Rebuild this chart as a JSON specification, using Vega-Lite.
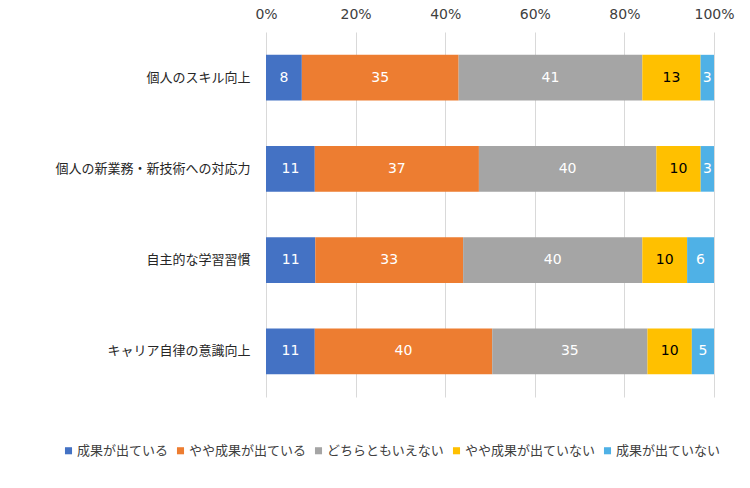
{
  "$schema": "https://vega.github.io/schema/vega-lite/v6.json",
  "autosize": "none",
  "width": 448,
  "height": 365,
  "padding": {"left": 266, "top": 32, "right": 36, "bottom": 91},
  "background": "white",
  "config": {"view": {"stroke": null}, "font": "Noto Sans CJK JP"},
  "data": {"values": [
    {"cat": "個人のスキル向上", "r": "成果が出ている", "k": 1, "v": 8},
    {"cat": "個人のスキル向上", "r": "やや成果が出ている", "k": 2, "v": 35},
    {"cat": "個人のスキル向上", "r": "どちらともいえない", "k": 3, "v": 41},
    {"cat": "個人のスキル向上", "r": "やや成果が出ていない", "k": 4, "v": 13},
    {"cat": "個人のスキル向上", "r": "成果が出ていない", "k": 5, "v": 3},
    {"cat": "個人の新業務・新技術への対応力", "r": "成果が出ている", "k": 1, "v": 11},
    {"cat": "個人の新業務・新技術への対応力", "r": "やや成果が出ている", "k": 2, "v": 37},
    {"cat": "個人の新業務・新技術への対応力", "r": "どちらともいえない", "k": 3, "v": 40},
    {"cat": "個人の新業務・新技術への対応力", "r": "やや成果が出ていない", "k": 4, "v": 10},
    {"cat": "個人の新業務・新技術への対応力", "r": "成果が出ていない", "k": 5, "v": 3},
    {"cat": "自主的な学習習慣", "r": "成果が出ている", "k": 1, "v": 11},
    {"cat": "自主的な学習習慣", "r": "やや成果が出ている", "k": 2, "v": 33},
    {"cat": "自主的な学習習慣", "r": "どちらともいえない", "k": 3, "v": 40},
    {"cat": "自主的な学習習慣", "r": "やや成果が出ていない", "k": 4, "v": 10},
    {"cat": "自主的な学習習慣", "r": "成果が出ていない", "k": 5, "v": 6},
    {"cat": "キャリア自律の意識向上", "r": "成果が出ている", "k": 1, "v": 11},
    {"cat": "キャリア自律の意識向上", "r": "やや成果が出ている", "k": 2, "v": 40},
    {"cat": "キャリア自律の意識向上", "r": "どちらともいえない", "k": 3, "v": 35},
    {"cat": "キャリア自律の意識向上", "r": "やや成果が出ていない", "k": 4, "v": 10},
    {"cat": "キャリア自律の意識向上", "r": "成果が出ていない", "k": 5, "v": 5}
  ]},
  "encoding": {
    "y": {
      "field": "cat", "type": "nominal", "sort": null,
      "scale": {"paddingInner": 0.5, "paddingOuter": 0.25},
      "axis": {"title": null, "domain": false, "ticks": false, "labelPadding": 16, "labelLimit": 300, "labelFontSize": 13, "labelColor": "#262626", "labelFont": "Noto Sans CJK JP"}
    },
    "order": {"field": "k", "type": "quantitative"}
  },
  "layer": [
    {
      "mark": {"type": "bar"},
      "encoding": {
        "x": {
          "field": "v", "type": "quantitative", "stack": "normalize",
          "scale": {"domain": [0, 1], "nice": false},
          "axis": {"orient": "top", "format": ".0%", "values": [0, 0.2, 0.4, 0.6, 0.8, 1], "title": null, "domain": false, "ticks": false, "grid": true, "gridColor": "#D9D9D9", "labelFontSize": 14, "labelColor": "#404040", "labelFont": "DejaVu Sans", "labelPadding": 11, "labelFlush": false}
        },
        "color": {
          "field": "r", "type": "nominal",
          "scale": {
            "domain": ["成果が出ている", "やや成果が出ている", "どちらともいえない", "やや成果が出ていない", "成果が出ていない"],
            "range": ["#4472C4", "#ED7D31", "#A5A5A5", "#FFC000", "#4FB1E6"]
          },
          "legend": {
            "title": null, "orient": "none", "direction": "horizontal",
            "legendX": -204, "legendY": 412,
            "symbolType": "square", "symbolSize": 50, "symbolStrokeWidth": 0,
            "labelFontSize": 13, "labelColor": "#404040", "labelFont": "Noto Sans CJK JP",
            "columnPadding": 5, "labelOffset": 2
          }
        }
      }
    },
    {
      "mark": {"type": "text", "fontSize": 14, "font": "DejaVu Sans"},
      "encoding": {
        "x": {"field": "v", "type": "quantitative", "stack": "normalize", "bandPosition": 0.5},
        "text": {"field": "v", "type": "quantitative"},
        "color": {
          "condition": {"test": "datum.r === 'やや成果が出ていない'", "value": "#000000"},
          "value": "#FFFFFF"
        }
      }
    }
  ]
}
